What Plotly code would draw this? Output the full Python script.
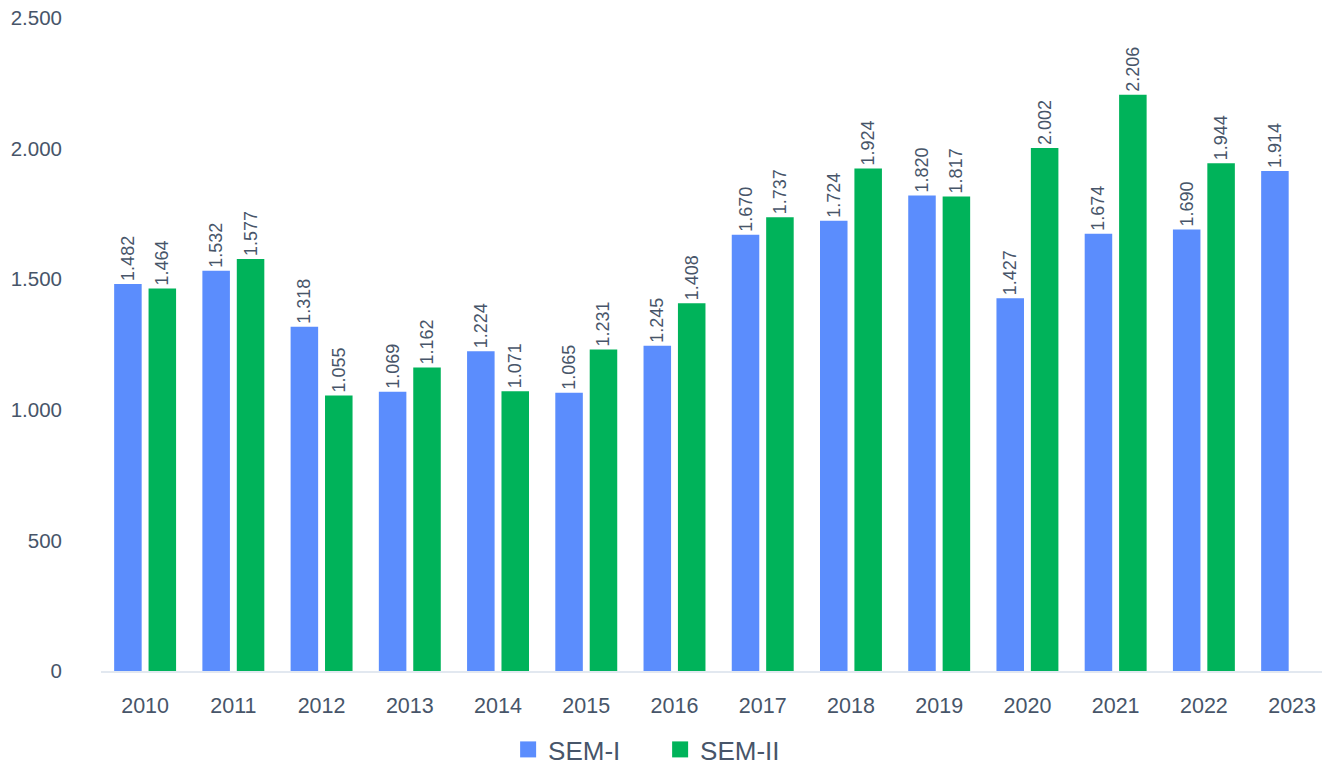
import plotly.graph_objects as go

years = ["2010", "2011", "2012", "2013", "2014", "2015", "2016", "2017",
         "2018", "2019", "2020", "2021", "2022", "2023"]
sem1 = [1482, 1532, 1318, 1069, 1224, 1065, 1245, 1670, 1724, 1820, 1427, 1674, 1690, 1914]
sem2 = [1464, 1577, 1055, 1162, 1071, 1231, 1408, 1737, 1924, 1817, 2002, 2206, 1944, None]
ytick_vals = [0, 500, 1000, 1500, 2000, 2500]

FONT = "Liberation Sans"
TXT = "#475569"
BLUE = "#5B8DFD"
GREEN = "#00B35A"

fig = go.Figure()
for name, vals, col in [("SEM-I", sem1, BLUE), ("SEM-II", sem2, GREEN)]:
    fig.add_trace(go.Bar(
        x=years, y=vals, name=name, marker=dict(color=col, line=dict(width=0)),
        texttemplate="%{y:,}", textposition="outside", textangle=-90,
        constraintext="none", showlegend=False,
        textfont=dict(family=FONT, size=18, color=TXT), cliponaxis=False,
    ))
# legend entries with larger square symbols
for name, col in [("SEM-I", BLUE), ("SEM-II", GREEN)]:
    fig.add_trace(go.Scatter(
        x=[None], y=[None], mode="markers", name=name,
        marker=dict(symbol="square", size=17, color=col), showlegend=True,
    ))

fig.update_layout(
    width=1330, height=765,
    margin=dict(l=93, r=0, t=10, b=101),
    paper_bgcolor="white", plot_bgcolor="white",
    separators=",.",
    barmode="group", bargap=0.22, bargroupgap=0.2,
    font=dict(family=FONT, color=TXT, size=19),
    showlegend=True,
    legend=dict(orientation="h", x=0.452, xanchor="center", y=-0.084, yanchor="top",
                font=dict(family=FONT, size=26, color=TXT), itemwidth=30,
                entrywidth=107, entrywidthmode="pixels",
                traceorder="normal", tracegroupgap=0),
    xaxis=dict(type="category", range=[-0.5, 13.52], showline=True, linecolor="#E2E8F0",
               linewidth=2, showgrid=False, ticks="", tickfont=dict(size=21.5, color=TXT),
               ticklabelstandoff=14, automargin=False),
    yaxis=dict(range=[0, 2500], tickvals=ytick_vals, tickformat=",", showgrid=False,
               zeroline=False, showline=False, ticks="", ticklabelstandoff=38,
               ticklabeloverflow="allow", automargin=False,
               tickfont=dict(size=20.5, color=TXT)),
)

fig.write_html("out.html")
